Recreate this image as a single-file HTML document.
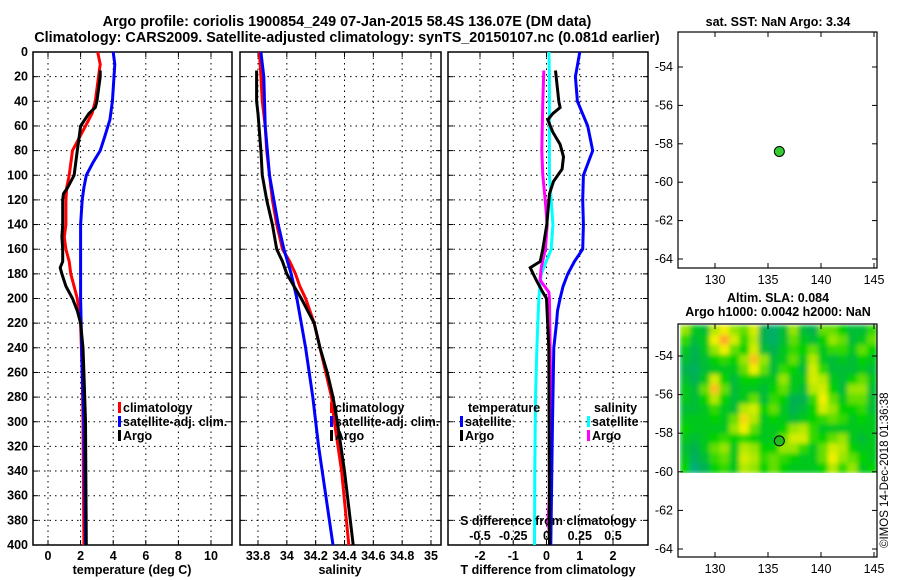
<!DOCTYPE html>
<html><head><meta charset="utf-8"><style>
body{margin:0;background:#fff}
svg{display:block;font-family:"Liberation Sans",sans-serif;font-weight:bold}
</style></head><body>
<svg id="c" width="900" height="580" viewBox="0 0 900 580">
<defs>
<filter id="bl" x="0" y="0" width="1" height="1"><feGaussianBlur stdDeviation="2.5"/></filter>
<clipPath id="mc"><rect x="680" y="325" width="197" height="148"/></clipPath>
</defs>
<text x="347" y="26" font-size="14.4" text-anchor="middle">Argo profile: coriolis 1900854_249 07-Jan-2015 58.4S 136.07E (DM data)</text>
<text x="347" y="42" font-size="14.4" text-anchor="middle">Climatology: CARS2009. Satellite-adjusted climatology: synTS_20150107.nc (0.081d earlier)</text>
<text x="778" y="26" font-size="12.5" text-anchor="middle">sat. SST: NaN Argo: 3.34</text>
<text x="778" y="302" font-size="12.5" text-anchor="middle">Altim. SLA: 0.084</text>
<text x="778" y="316" font-size="12.5" text-anchor="middle">Argo h1000: 0.0042 h2000: NaN</text>
<text transform="translate(888,548) rotate(-90)" font-size="11.5" font-weight="normal">©IMOS 14-Dec-2018 01:36:38</text>
<g id="g"></g>
</svg>
<script>
// ---- data ----
const depthTicks=[0,20,40,60,80,100,120,140,160,180,200,220,240,260,280,300,320,340,360,380,400];
const tTicks=[0,2,4,6,8,10];
const sTicks=[33.8,34,34.2,34.4,34.6,34.8,35];
const sTickLabels=["33.8","34","34.2","34.4","34.6","34.8","35"];
const dTicks=[-2,-1,0,1,2];
const sdTicks=[-0.5,-0.25,0,0.25,0.5];
const sdTickLabels=["-0.5","-0.25","0","0.25","0.5"];
const latTicks=[-54,-56,-58,-60,-62,-64];
const lonTicks=[130,135,140,145];

const climTDepth=[0,10,20,40,50,60,70,80,100,110,120,140,150,160,170,180,200,220,240,260,300,400];
const climT=[3.05,3.2,3.1,2.9,2.7,2.3,1.9,1.5,1.3,1.15,1.1,1.1,1.0,1.1,1.3,1.4,1.8,2.0,2.05,2.1,2.15,2.2];
const satTDepth=[0,10,40,55,70,80,90,100,110,120,140,160,200,260,300,400];
const satT=[4.0,4.1,3.95,3.8,3.45,3.2,2.75,2.35,2.2,2.1,2.0,2.0,2.0,2.1,2.2,2.3];
const argoTDepth=[15,20,40,45,50,60,70,80,100,110,115,120,140,150,160,170,175,180,190,200,210,220,240,260,300,400];
const argoT=[3.2,3.2,3.0,2.9,2.5,2.0,1.9,1.8,1.6,1.2,0.95,0.9,0.9,0.85,0.9,0.9,0.75,0.85,1.1,1.5,1.8,2.0,2.15,2.2,2.3,2.35];

const climSDepth=[0,20,40,60,80,100,120,140,160,170,180,190,200,220,240,260,280,300,340,400];
const climS=[33.81,33.82,33.83,33.85,33.86,33.88,33.9,33.93,33.97,34.02,34.06,34.09,34.13,34.19,34.23,34.27,34.31,34.33,34.38,34.43];
const satSDepth=[0,20,60,100,140,160,180,200,240,280,320,360,400];
const satS=[33.82,33.84,33.85,33.88,33.94,33.98,34.03,34.07,34.13,34.18,34.22,34.27,34.32];
const argoSDepth=[15,40,50,80,100,120,140,160,170,180,190,200,220,240,260,280,300,340,400];
const argoS=[33.79,33.79,33.8,33.82,33.83,33.86,33.9,33.93,33.97,34.0,34.05,34.1,34.19,34.23,34.28,34.32,34.35,34.4,34.46];

const dSatTDepth=[0,20,40,60,80,100,120,140,160,170,180,190,200,210,220,240,300,400];
const dSatT=[1.0,0.87,0.93,1.24,1.39,1.11,1.09,1.11,1.09,0.84,0.64,0.5,0.41,0.33,0.3,0.22,0.18,0.13];
const dArgoTDepth=[15,40,45,50,55,65,75,85,95,105,115,140,160,170,175,185,195,200,240,400];
const dArgoT=[0.27,0.37,0.41,0.19,0.04,0.19,0.41,0.51,0.47,0.21,0.09,0.01,-0.11,-0.19,-0.49,-0.31,-0.11,0,0.07,0.09];
const dSatSDepth=[0,20,100,140,160,180,200,240,280,340,400];
const dSatS=[0.018,0.022,0.022,0.048,0.035,-0.04,-0.058,-0.072,-0.083,-0.088,-0.09];
const dArgoSDepth=[15,40,80,100,120,140,160,175,185,190,195,200,260,300,360,380,400];
const dArgoS=[-0.02,-0.028,-0.035,-0.028,-0.01,0.005,-0.008,-0.04,-0.048,-0.015,0.018,0.022,0.03,0.03,0.022,0.012,0.03];

const floatLon=136.07, floatLat=-58.4;
const slaGrid=[
[.60,.40,.35,.65,.75,.60,.55,.70,.30,.20,.35,.60,.35,.30,.55,.55,.45,.35,.35,.50],
[.50,.35,.40,.75,.90,.70,.50,.65,.30,.22,.35,.55,.40,.35,.45,.60,.55,.35,.40,.55],
[.40,.30,.40,.60,.75,.55,.45,.70,.35,.30,.40,.50,.45,.55,.40,.50,.50,.40,.55,.45],
[.35,.30,.35,.45,.50,.45,.60,.85,.60,.35,.40,.55,.40,.65,.40,.35,.40,.35,.45,.40],
[.30,.25,.35,.40,.40,.40,.55,.75,.55,.35,.50,.45,.35,.70,.50,.35,.35,.35,.40,.35],
[.35,.30,.40,.70,.45,.35,.45,.45,.40,.40,.60,.40,.40,.70,.65,.40,.35,.45,.55,.40],
[.40,.35,.55,.85,.55,.35,.40,.40,.35,.45,.55,.40,.35,.65,.70,.45,.35,.60,.60,.35],
[.40,.35,.45,.65,.45,.35,.40,.55,.35,.50,.45,.30,.30,.50,.75,.55,.40,.55,.55,.35],
[.35,.35,.40,.50,.40,.35,.65,.70,.45,.55,.40,.30,.35,.45,.70,.60,.45,.45,.50,.35],
[.40,.40,.40,.45,.40,.55,.80,.65,.40,.45,.40,.35,.40,.45,.50,.55,.50,.40,.45,.40],
[.45,.40,.40,.40,.40,.60,.75,.55,.40,.40,.45,.60,.65,.50,.40,.40,.40,.40,.40,.40],
[.40,.35,.40,.45,.50,.45,.50,.45,.40,.40,.55,.70,.70,.50,.45,.55,.60,.40,.35,.40],
[.35,.30,.40,.55,.60,.40,.65,.60,.45,.45,.60,.60,.50,.40,.55,.70,.65,.45,.40,.40],
[.40,.25,.35,.50,.55,.40,.70,.65,.50,.55,.50,.45,.40,.40,.55,.75,.60,.55,.45,.40],
[.45,.15,.30,.45,.50,.40,.65,.60,.45,.55,.45,.40,.40,.40,.45,.65,.50,.60,.40,.45]];

// ---- drawing ----
const NS="http://www.w3.org/2000/svg", G=document.getElementById('g');
function mk(t,a,p){const e=document.createElementNS(NS,t);for(const k in a)e.setAttribute(k,a[k]);(p||G).appendChild(e);return e;}
const top0=52,bot0=545;
const yD=d=>top0+d/400*(bot0-top0);
const lin=(d0,d1,r0,r1)=>v=>r0+(v-d0)/(d1-d0)*(r1-r0);
const xT=lin(0,10,48,211), xS=lin(33.8,35,258,431), xD=lin(-2,2,480,613), xSD=v=>xD(v*4);

function panel(x0,x1,xticks,labels,fx,name,showY){
  const g=mk('g',{});
  
  
  xticks.forEach((t,i)=>{const x=fx(t);
    mk('line',{x1:x,x2:x,y1:top0,y2:bot0,stroke:'#000','stroke-dasharray':'1.5,4','stroke-width':1},g);
    mk('line',{x1:x,x2:x,y1:bot0,y2:bot0-5,stroke:'#000'},g);
    mk('line',{x1:x,x2:x,y1:top0,y2:top0+5,stroke:'#000'},g);
    const tx=mk('text',{x:x,y:bot0+15,'font-size':12.5,'text-anchor':'middle'},g);tx.textContent=labels[i];
    
    
  });
  depthTicks.forEach(d=>{const y=yD(d);
    if(d>0&&d<400)mk('line',{x1:x0,x2:x1,y1:y,y2:y,stroke:'#000','stroke-dasharray':'1.5,4','stroke-width':1},g);
    mk('line',{x1:x0,x2:x0+5,y1:y,y2:y,stroke:'#000'},g);
    mk('line',{x1:x1-5,x2:x1,y1:y,y2:y,stroke:'#000'},g);
    if(showY){const t=mk('text',{x:x0-5,y:y+4,'font-size':12.5,'text-anchor':'end'},g);t.textContent=d;
      
      }
  });
  mk('rect',{x:x0,y:top0,width:x1-x0,height:bot0-top0,fill:'none',stroke:'#000','stroke-width':1.5},g);
  return g;
}
function line(ds,vs,fx,col,name){
  const pts=ds.map((d,i)=>fx(vs[i]).toFixed(1)+','+yD(d).toFixed(1)).join(' ');
  const p=mk('polyline',{points:pts,fill:'none',stroke:col,'stroke-width':3,'stroke-linejoin':'miter'});
  
  
}
function txt(x,y,s,name,anchor,size){const t=mk('text',{x:x,y:y,'font-size':size||12.5,'text-anchor':anchor||'start'});t.textContent=s;
  
  return t;}
function leg(x,y,col,s,name){mk('rect',{x:x,y:y-10,width:3,height:11,fill:col});txt(x+5,y,s,name);}

panel(33,232,tTicks,tTicks.map(String),xT,'temperature-panel',true);
panel(240,441,sTicks,sTickLabels,xS,'salinity-panel',false);
panel(448,648,dTicks,dTicks.map(String),xD,'difference-panel',false);

line(climTDepth,climT,xT,'#f00','temp-climatology-line');
line(satTDepth,satT,xT,'#00f','temp-satellite-line');
line(argoTDepth,argoT,xT,'#000','temp-argo-line');
line(climSDepth,climS,xS,'#f00','sal-climatology-line');
line(satSDepth,satS,xS,'#00f','sal-satellite-line');
line(argoSDepth,argoS,xS,'#000','sal-argo-line');
line(dSatSDepth,dSatS,xSD,'#0ff','sdiff-satellite-line');
line(dArgoSDepth,dArgoS,xSD,'#f0f','sdiff-argo-line');
line(dSatTDepth,dSatT,xD,'#00f','tdiff-satellite-line');
line(dArgoTDepth,dArgoT,xD,'#000','tdiff-argo-line');

txt(132,574,'temperature (deg C)','x-axis-title-temp','middle');
txt(340,574,'salinity','x-axis-title-sal','middle');
txt(548,574,'T difference from climatology','x-axis-title-tdiff','middle');
txt(548,525,'S difference from climatology','s-diff-axis-title','middle');
sdTicks.forEach((v,i)=>txt(xSD(v),540,sdTickLabels[i],'s-diff-tick-label','middle'));

leg(118,412,'#f00','climatology','legend-climatology');
leg(118,426,'#00f','satellite-adj. clim.','legend-satellite');
leg(118,440,'#000','Argo','legend-argo');
leg(330,412,'#f00','climatology','legend-climatology-2');
leg(330,426,'#00f','satellite-adj. clim.','legend-satellite-2');
leg(330,440,'#000','Argo','legend-argo-2');
txt(468,412,'temperature','legend-temp-header');
leg(460,426,'#00f','satellite','legend-tdiff-sat');
leg(460,440,'#000','Argo','legend-tdiff-argo');
txt(594,412,'salinity','legend-sal-header');
leg(587,426,'#0ff','satellite','legend-sdiff-sat');
leg(587,440,'#f0f','Argo','legend-sdiff-argo');

// maps
const lonX=lin(130,145,715,874);
function mapAxes(yTop,yBot,latY,name){
  const g=mk('g',{});
  
  
  lonTicks.forEach(l=>{const x=lonX(l);
    mk('line',{x1:x,x2:x,y1:yBot,y2:yBot-5,stroke:'#000'},g);
    mk('line',{x1:x,x2:x,y1:yTop,y2:yTop+5,stroke:'#000'},g);
    const t=mk('text',{x:x,y:yBot+16,'font-size':12.5,'text-anchor':'middle','font-weight':'normal'},g);t.textContent=l;
    
    });
  latTicks.forEach(l=>{const y=latY(l);
    mk('line',{x1:678,x2:683,y1:y,y2:y,stroke:'#000'},g);
    mk('line',{x1:872,x2:877,y1:y,y2:y,stroke:'#000'},g);
    const t=mk('text',{x:673,y:y+4,'font-size':12.5,'text-anchor':'end','font-weight':'normal'},g);t.textContent=l;
    
    });
  mk('rect',{x:678,y:yTop,width:199,height:yBot-yTop,fill:'none',stroke:'#000','stroke-width':1.2},g);
}
const lat1=lin(-54,-64,67,259), lat2=lin(-54,-64,356,549);
mapAxes(32,268,lat1,'sst-map');
function cmap(v){const s=[[0,[0,170,160]],[0.3,[0,178,80]],[0.45,[0,210,0]],[0.6,[150,230,0]],[0.75,[240,240,0]],[0.9,[255,170,40]],[1,[255,120,40]]];
  for(let i=1;i<s.length;i++)if(v<=s[i][0]){const f=(v-s[i-1][0])/(s[i][0]-s[i-1][0]);const a=s[i-1][1],b=s[i][1];
    return 'rgb('+a.map((c,k)=>Math.round(c+(b[k]-c)*f)).join(',')+')';}
  return 'rgb(255,120,40)';}
const hg=mk('g',{'clip-path':'url(#mc)'});


const inner=mk('g',{filter:'url(#bl)'},hg);
const nr=slaGrid.length,nc=slaGrid[0].length,cw=197/nc,ch=148/nr;
slaGrid.forEach((row,r)=>row.forEach((v,c)=>{
  const e=mk('rect',{x:(680+c*cw).toFixed(2),y:(325+r*ch).toFixed(2),width:(cw+0.6).toFixed(2),height:(ch+0.6).toFixed(2),fill:cmap(v)},inner);
  
  
}));
mapAxes(324,557,lat2,'sla-map');
const m1=mk('circle',{cx:lonX(floatLon),cy:lat1(floatLat),r:5,fill:'#33cc33',stroke:'#000','stroke-width':1});


const m2=mk('circle',{cx:lonX(floatLon),cy:lat2(floatLat),r:5,fill:'#22bb22',stroke:'#000','stroke-width':1});


</script>
</body></html>
